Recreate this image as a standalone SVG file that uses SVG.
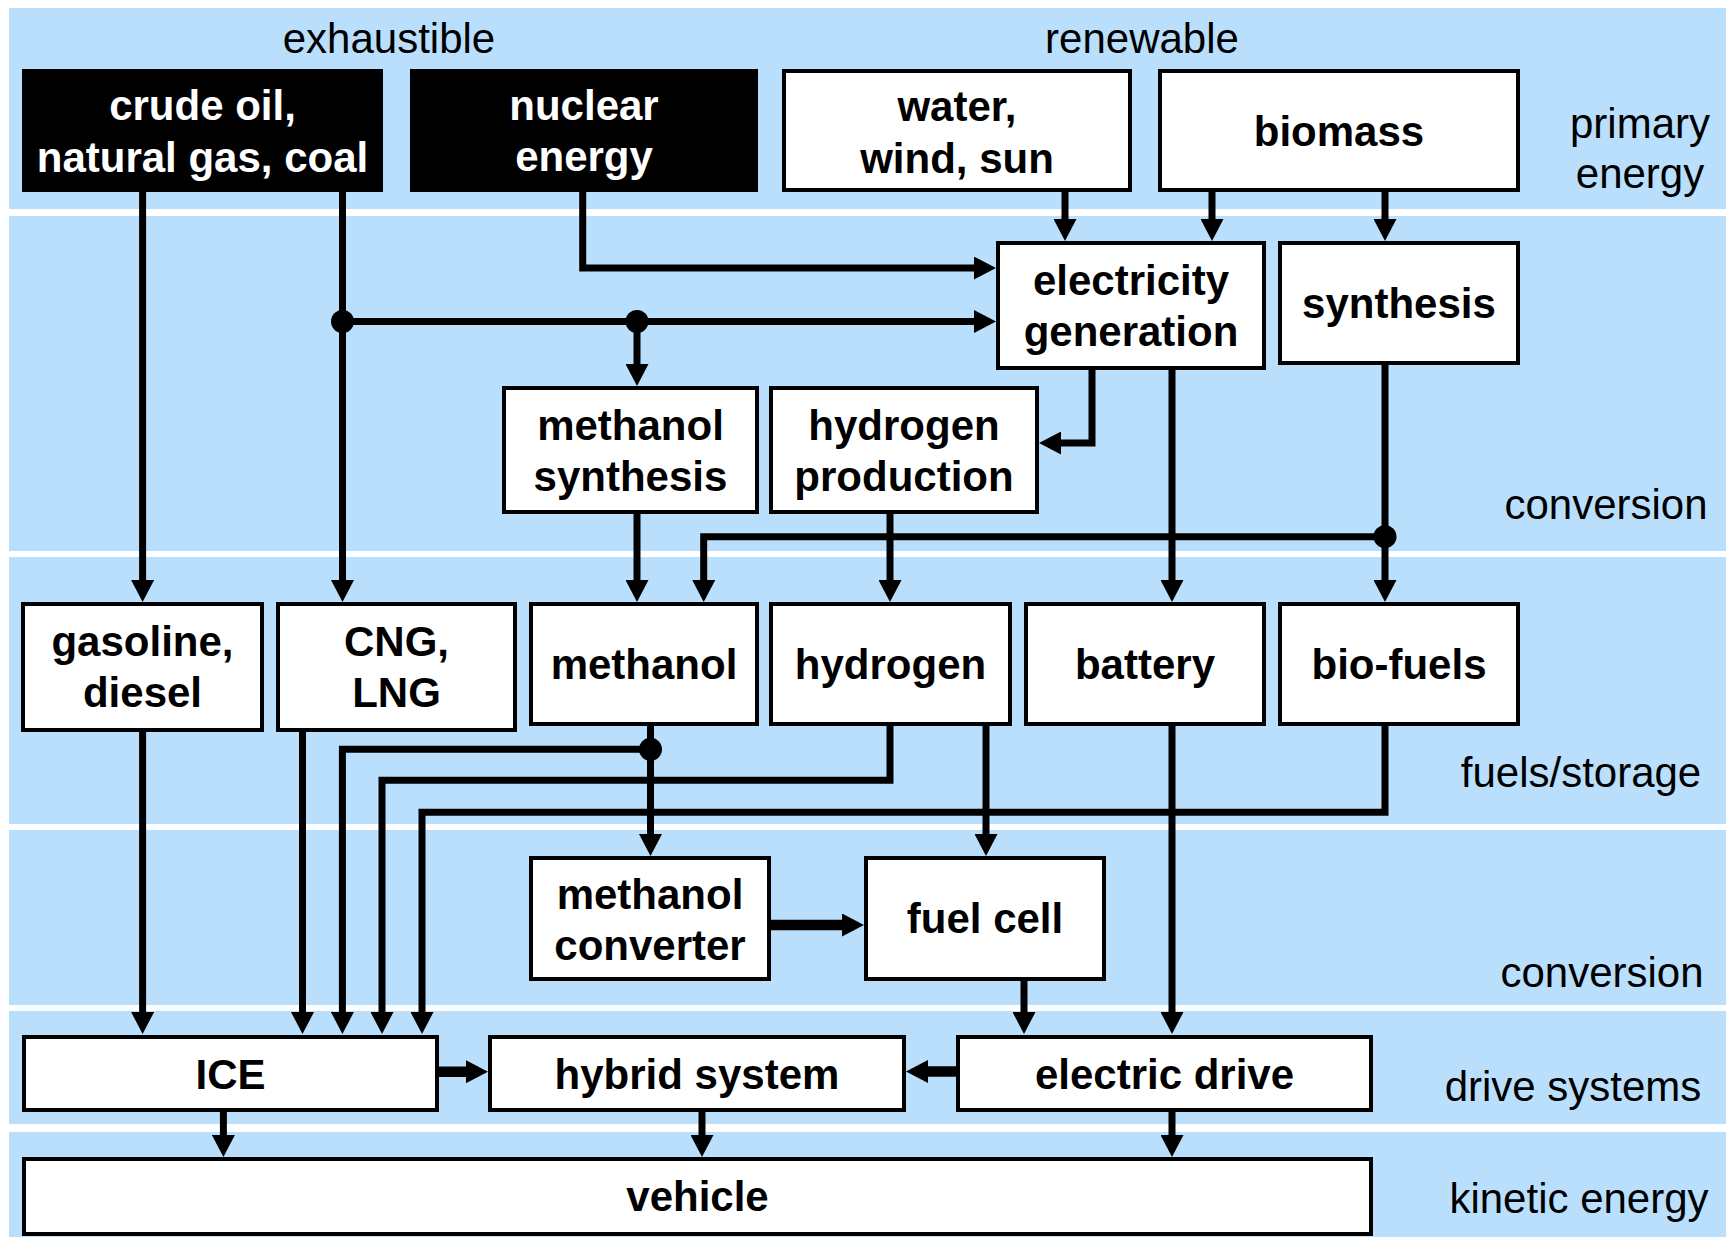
<svg xmlns="http://www.w3.org/2000/svg" width="1726" height="1237" viewBox="0 0 1726 1237">
<defs>
<style>
.band{fill:#b9dffc}
.box{fill:#ffffff;stroke:#000;stroke-width:4}
.dark{fill:#000}
.t{font-family:"Liberation Sans",Arial,sans-serif;font-size:42px;font-weight:bold;text-anchor:middle;fill:#000}
.tw{font-family:"Liberation Sans",Arial,sans-serif;font-size:42px;font-weight:bold;text-anchor:middle;fill:#fff}
.lab{font-family:"Liberation Sans",Arial,sans-serif;font-size:42px;text-anchor:middle;fill:#000}
.c{fill:none;stroke:#000;stroke-width:7;marker-end:url(#ah)}
.cn{fill:none;stroke:#000;stroke-width:7}
.ct{fill:none;stroke:#000;stroke-width:10.5;marker-end:url(#ah)}
</style>
<marker id="ah" markerUnits="userSpaceOnUse" markerWidth="22" markerHeight="23" viewBox="0 0 22 23" refX="12" refY="11.5" orient="auto">
<path d="M0,0 L22,11.5 L0,23 z" fill="#000"/>
</marker>
</defs>
<rect width="1726" height="1237" fill="#fff"/>
<g id="bands">
<rect class="band" x="9" y="8" width="1717" height="201"/>
<rect class="band" x="9" y="216" width="1717" height="335"/>
<rect class="band" x="9" y="557" width="1717" height="267"/>
<rect class="band" x="9" y="830" width="1717" height="175"/>
<rect class="band" x="9" y="1011" width="1717" height="113"/>
<rect class="band" x="9" y="1132" width="1717" height="105"/>
</g>
<g id="labels">
<text class="lab" x="389" y="53">exhaustible</text>
<text class="lab" x="1142" y="53">renewable</text>
<text class="lab" x="1640" y="138">primary</text>
<text class="lab" x="1640" y="188">energy</text>
<text class="lab" x="1606" y="519">conversion</text>
<text class="lab" x="1581" y="787">fuels/storage</text>
<text class="lab" x="1602" y="987">conversion</text>
<text class="lab" x="1573" y="1101">drive systems</text>
<text class="lab" x="1579" y="1213">kinetic energy</text>
</g>
<g id="connectors">
<path class="c" d="M142.6,192 V592"/>
<path class="c" d="M342.5,192 V592"/>
<path class="c" d="M342.5,321.5 H986"/>
<path class="c" d="M637,321.5 V376"/>
<path class="c" d="M582.7,192 V268 H986"/>
<path class="c" d="M1065,192 V231"/>
<path class="c" d="M1212,192 V231"/>
<path class="c" d="M1385,192 V231"/>
<path class="c" d="M1092,370 V443 H1049"/>
<path class="c" d="M1172,370 V592"/>
<path class="c" d="M1385,365 V592"/>
<path class="c" d="M1385,536.7 H703.7 V592"/>
<path class="c" d="M637,514 V592"/>
<path class="c" d="M890,514 V592"/>
<path class="c" d="M142.6,732 V1024"/>
<path class="c" d="M302.5,732 V1024"/>
<path class="c" d="M650.5,726 V846"/>
<path class="c" d="M650.5,749.3 H342.4 V1024"/>
<path class="c" d="M890,726 V780.3 H382 V1024"/>
<path class="c" d="M1385,726 V812.2 H422 V1024"/>
<path class="c" d="M986,726 V846"/>
<path class="c" d="M1172,726 V1024"/>
<path class="c" d="M1024,981 V1024"/>
<path class="ct" d="M771,925 H854"/>
<path class="ct" d="M439,1071.7 H478"/>
<path class="ct" d="M956,1071.5 H916"/>
<path class="c" d="M223.4,1112 V1147"/>
<path class="c" d="M702,1112 V1147"/>
<path class="c" d="M1172,1112 V1147"/>
<circle cx="342.5" cy="321.5" r="11.5"/>
<circle cx="637" cy="321.5" r="11.5"/>
<circle cx="1385" cy="536.7" r="11.5"/>
<circle cx="650.5" cy="749.3" r="11.5"/>
</g>
<g id="crude">
<rect class="dark" x="22" y="69" width="361" height="123"/>
<text class="tw" x="202.5" y="120">crude oil,</text>
<text class="tw" x="202.5" y="172">natural gas, coal</text>
</g>
<g id="nuclear">
<rect class="dark" x="410" y="69" width="348" height="123"/>
<text class="tw" x="584" y="120">nuclear</text>
<text class="tw" x="584" y="171">energy</text>
</g>
<g id="water">
<rect class="box" x="784" y="71" width="346" height="119"/>
<text class="t" x="957" y="121">water,</text>
<text class="t" x="957" y="173">wind, sun</text>
</g>
<g id="biomass">
<rect class="box" x="1160" y="71" width="358" height="119"/>
<text class="t" x="1339" y="146">biomass</text>
</g>
<g id="electricity">
<rect class="box" x="998" y="243" width="266" height="125"/>
<text class="t" x="1131" y="295">electricity</text>
<text class="t" x="1131" y="346">generation</text>
</g>
<g id="synthesis">
<rect class="box" x="1280" y="243" width="238" height="120"/>
<text class="t" x="1399" y="318">synthesis</text>
</g>
<g id="methanol-synthesis">
<rect class="box" x="504" y="388" width="253" height="124"/>
<text class="t" x="630.5" y="440">methanol</text>
<text class="t" x="630.5" y="491">synthesis</text>
</g>
<g id="hydrogen-production">
<rect class="box" x="771" y="388" width="266" height="124"/>
<text class="t" x="904" y="440">hydrogen</text>
<text class="t" x="904" y="491">production</text>
</g>
<g id="gasoline">
<rect class="box" x="23" y="604" width="239" height="126"/>
<text class="t" x="142.5" y="656">gasoline,</text>
<text class="t" x="142.5" y="707">diesel</text>
</g>
<g id="cng">
<rect class="box" x="278" y="604" width="237" height="126"/>
<text class="t" x="396.5" y="656">CNG,</text>
<text class="t" x="396.5" y="707">LNG</text>
</g>
<g id="methanol">
<rect class="box" x="531" y="604" width="226" height="120"/>
<text class="t" x="644" y="679">methanol</text>
</g>
<g id="hydrogen">
<rect class="box" x="771" y="604" width="239" height="120"/>
<text class="t" x="890.5" y="679">hydrogen</text>
</g>
<g id="battery">
<rect class="box" x="1026" y="604" width="238" height="120"/>
<text class="t" x="1145" y="679">battery</text>
</g>
<g id="bio-fuels">
<rect class="box" x="1280" y="604" width="238" height="120"/>
<text class="t" x="1399" y="679">bio-fuels</text>
</g>
<g id="methanol-converter">
<rect class="box" x="531" y="858" width="238" height="121"/>
<text class="t" x="650" y="909">methanol</text>
<text class="t" x="650" y="960">converter</text>
</g>
<g id="fuel-cell">
<rect class="box" x="866" y="858" width="238" height="121"/>
<text class="t" x="985" y="933">fuel cell</text>
</g>
<g id="ice">
<rect class="box" x="24" y="1037" width="413" height="73"/>
<text class="t" x="230.5" y="1089">ICE</text>
</g>
<g id="hybrid">
<rect class="box" x="490" y="1037" width="414" height="73"/>
<text class="t" x="697" y="1089">hybrid system</text>
</g>
<g id="electric-drive">
<rect class="box" x="958" y="1037" width="413" height="73"/>
<text class="t" x="1164.5" y="1089">electric drive</text>
</g>
<g id="vehicle">
<rect class="box" x="24" y="1159" width="1347" height="75"/>
<text class="t" x="697.5" y="1211">vehicle</text>
</g>
</svg>
